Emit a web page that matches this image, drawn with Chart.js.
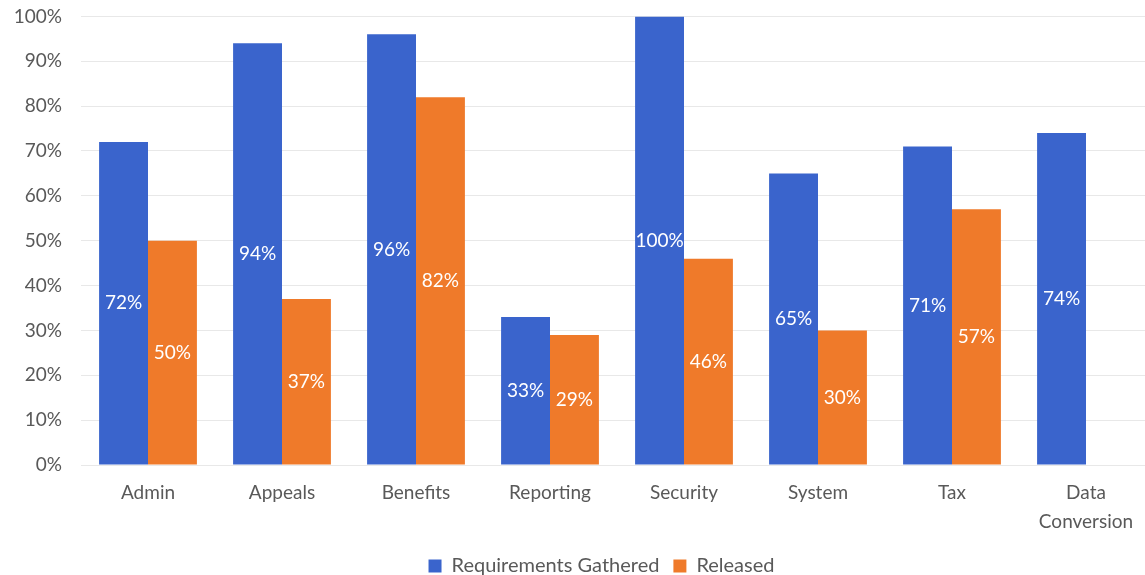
<!DOCTYPE html>
<html>
<head>
<meta charset="utf-8">
<script src="https://cdn.jsdelivr.net/npm/chart.js@4"></script>
<style>
  html, body { margin: 0; padding: 0; background: #fff; overflow: hidden; }
  #wrap { width: 1153px; height: 600px; margin-top: -14px; }
</style>
</head>
<body>
<div id="wrap"><canvas id="chart"></canvas></div>
<script>
const categories = ['Admin', 'Appeals', 'Benefits', 'Reporting', 'Security', 'System', 'Tax', ['Data', 'Conversion']];
const gathered = [72, 94, 96, 33, 100, 65, 71, 74];
const released = [50, 37, 82, 29, 46, 30, 57, null];

// labels in the middle of each bar
const barLabels = {
  id: 'barLabels',
  afterDatasetsDraw(chart) {
    const ctx = chart.ctx;
    ctx.save();
    ctx.font = '19px Lato';
    ctx.fillStyle = '#ffffff';
    ctx.textAlign = 'center';
    ctx.textBaseline = 'middle';
    chart.data.datasets.forEach((ds, i) => {
      chart.getDatasetMeta(i).data.forEach((bar, j) => {
        const v = ds.data[j];
        if (v == null) return;
        ctx.fillText(v + '%', bar.x, (bar.y + bar.base) / 2);
      });
    });
    ctx.restore();
  }
};

// legend sits a bit right of centre in the original
const nudgeLegend = {
  id: 'nudgeLegend',
  afterLayout(chart) {
    chart.legend.left += 19;
    chart.legend.right += 19;
  }
};

new Chart(document.getElementById('chart'), {
  type: 'bar',
  data: {
    labels: categories,
    datasets: [
      { label: 'Requirements Gathered', data: gathered, backgroundColor: '#3A64CC' },
      { label: 'Released', data: released, backgroundColor: '#EF7A2A' }
    ]
  },
  options: {
    responsive: true,
    maintainAspectRatio: false,
    animation: false,
    categoryPercentage: 0.73,
    barPercentage: 1,
    layout: { padding: { top: 0, right: 0, left: 12, bottom: 0 } },
    plugins: {
      legend: {
        position: 'bottom',
        labels: {
          color: '#595959',
          font: { family: 'Lato', size: 20 },
          boxWidth: 13, boxHeight: 13,
          padding: 14
        }
      },
      tooltip: { enabled: false }
    },
    scales: {
      x: {
        grid: { display: false },
        border: { display: false },
        ticks: { color: '#595959', font: { family: 'Lato', size: 19, lineHeight: 1.5 }, maxRotation: 0, padding: 6 }
      },
      y: {
        min: 0, max: 100,
        afterFit: s => { s.width = 69; },
        ticks: { stepSize: 10, color: '#595959', font: { family: 'Lato', size: 19 }, callback: v => v + '%', padding: 19 },
        grid: { color: '#e8e8e8', drawTicks: false },
        border: { display: false }
      }
    }
  },
  plugins: [barLabels, nudgeLegend]
});
</script>
</body>
</html>
